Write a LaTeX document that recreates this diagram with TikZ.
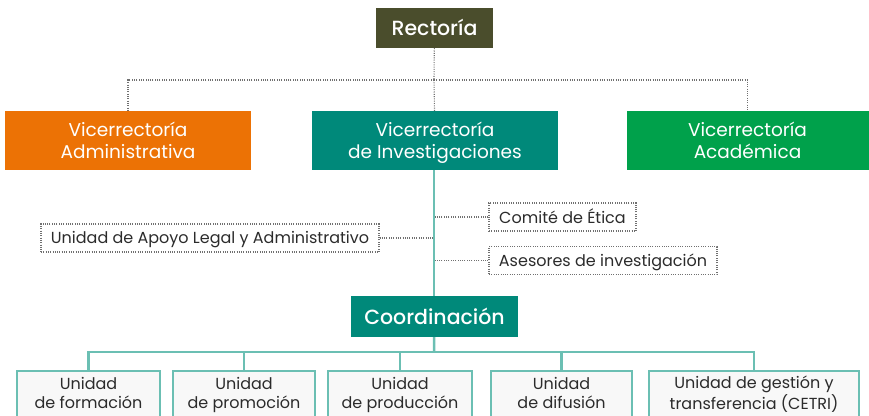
\documentclass[tikz,border=0pt]{standalone}
\usepackage{fontspec}
\setmainfont{Poppins}[BoldFont={Poppins Medium}]
\definecolor{olivo}{HTML}{4A4D2C}
\definecolor{naranja}{HTML}{EC7205}
\definecolor{verdeazul}{HTML}{00897A}
\definecolor{verde}{HTML}{00A14B}
\definecolor{linea}{HTML}{6BBFB3}
\definecolor{punteado}{HTML}{707070}
\definecolor{fondo}{HTML}{F8F8F8}
\definecolor{texto}{HTML}{2B2B2B}
\newcommand{\pilar}{\vrule height .83\baselineskip depth .17\baselineskip width 0pt}
\newcommand{\pilarb}{\vrule height .83\baselineskip depth \dimexpr.17\baselineskip+3pt\relax width 0pt}
\tikzset{
  jefe/.style={text=white, font=\fontsize{20.5}{24}\selectfont\bfseries, inner sep=0pt},
  vice/.style={text=white, font=\fontsize{18.5}{22}\selectfont, align=center,
    minimum height=59pt, inner sep=0pt},
  apoyo/.style={draw=punteado, line width=1.1pt, dash pattern=on 1pt off 1.3pt,
    text=texto, font=\fontsize{16}{19}\selectfont, minimum height=28pt, inner sep=0pt},
  unidad/.style={draw=linea, line width=2pt, fill=fondo, text=texto,
    font=\fontsize{16}{19}\selectfont, align=center, minimum height=48pt, inner sep=0pt},
  guia/.style={draw=punteado, line width=1.1pt, dash pattern=on 1pt off 1.3pt},
  tronco/.style={draw=linea, line width=2.5pt}
}
\begin{document}
\begin{tikzpicture}[x=1pt,y=-1pt]
\useasboundingbox (0,0) rectangle (869,415);
\clip (0,0) rectangle (869,415);
\node[jefe, fill=olivo, minimum width=117pt, minimum height=40pt] (rector) at (434.5,28) {\pilar Rectoría};
\node[vice, fill=naranja, minimum width=246pt] (vadm) at (128,140.5) {\pilar Vicerrectoría\\\pilar Administrativa};
\node[vice, fill=verdeazul, minimum width=246pt] (vinv) at (435,140.5) {\pilar Vicerrectoría\\\pilar de Investigaciones};
\node[vice, fill=verde, minimum width=242pt] (vaca) at (747.5,140.5) {\pilar Vicerrectoría\\\pilar Académica};
\coordinate (cruce) at (434,80);
\draw[guia] (rector) -- (cruce);
\draw[guia] (cruce) -| (vadm);
\draw[guia] (cruce) -| (vaca);
\draw[guia] (cruce) -- (vinv);
\node[jefe, fill=verdeazul, minimum width=167pt, minimum height=41pt] (coord) at (434.5,316.5) {\pilar Coordinación};
\draw[tronco] (vinv.south -| 434,0) -- (coord.north -| 434,0);
\node[apoyo, minimum width=147pt] (etica) at (562.5,217) {\pilar Comité de Ética};
\node[apoyo, minimum width=338pt] (legal) at (210,238) {\pilar Unidad de Apoyo Legal y Administrativo};
\node[apoyo, minimum width=228pt] (asesor) at (603,260.5) {\pilar Asesores de investigación};
\draw[guia] (etica) -- (etica -| 435,0);
\draw[guia] (legal) -- (legal -| 433,0);
\draw[guia] (asesor) -- (asesor -| 435,0);
\node[unidad, minimum width=143pt] (u1) at (88.5,394.5) {\pilar Unidad\\\pilarb de formación};
\node[unidad, minimum width=142pt] (u2) at (244,394.5) {\pilar Unidad\\\pilarb de promoción};
\node[unidad, minimum width=144pt] (u3) at (400,394.5) {\pilar Unidad\\\pilarb de producción};
\node[unidad, minimum width=141pt] (u4) at (561.5,394.5) {\pilar Unidad\\\pilarb de difusión};
\node[unidad, minimum width=210pt] (u5) at (754,394.5) {\pilar Unidad de gestión y\\\pilarb transferencia (CETRI)};
\coordinate (bus) at (434,352);
\draw[tronco] (coord) -- (bus);
\draw[tronco] (bus) -| (u1);
\draw[tronco] (bus) -| (u2);
\draw[tronco] (bus) -| (u3);
\draw[tronco] (bus) -| (u4);
\draw[tronco] (bus) -| (u5);
\end{tikzpicture}
\end{document}
